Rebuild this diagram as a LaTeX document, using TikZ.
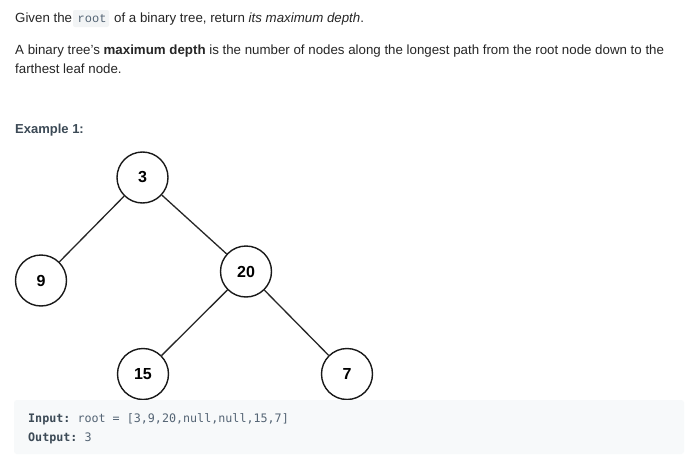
\documentclass[tikz,border=0pt]{standalone}
\usepackage{fontspec}
\setmainfont{Liberation Sans}
\setmonofont{DejaVu Sans Mono}
\newfontfamily\inlinemono{Liberation Mono}
\definecolor{txt}{HTML}{262626}
\definecolor{head}{HTML}{3C4A56}
\definecolor{codebg}{HTML}{F7F9FA}
\definecolor{codetxt}{HTML}{546474}
\definecolor{inlinebg}{HTML}{F2F4F5}
\begin{document}
\begin{tikzpicture}[x=1pt,y=-1pt,
  tnode/.style={circle,draw=black!90,line width=1.4pt,minimum size=51pt,inner sep=0pt,font=\fontsize{16}{18}\selectfont\bfseries},
  edge/.style={draw=black!85,line width=1.3pt},
  para/.style={anchor=base west,inner sep=0pt,text=txt,font=\fontsize{13.3}{15}\selectfont},
  code/.style={anchor=base west,inner sep=0pt,text=codetxt,font=\fontsize{11.7}{14}\selectfont\ttfamily}]
\useasboundingbox (0,0) rectangle (699,463);
\fill[white] (0,0) rectangle (699,463);
% inline code background
\fill[inlinebg,rounded corners=2pt] (73,10) rectangle (109,27);
\node[code,font=\fontsize{12}{12}\selectfont\inlinemono] (l1b) at (77.5,23) {root};
\node[para] (l1a) at (15,23) {Given the};
\node[para] (l1c) at (114,23) {of a binary tree, return \textit{its maximum depth}.};
\node[para] (l2) at (15,54) {A binary tree's \textbf{maximum depth} is the number of nodes along the longest path from the root node down to the};
\node[para] (l3) at (15,73) {farthest leaf node.};
\node[para,text=head,font=\fontsize{13}{15}\selectfont\bfseries] (ex) at (15,133) {Example 1:};
% tree
\node[tnode] (n3) at (142.5,177.5) {3};
\node[tnode] (n9) at (41,280.5) {9};
\node[tnode] (n20) at (246,271.5) {20};
\node[tnode] (n15) at (143,374) {15};
\node[tnode] (n7) at (347,374) {7};
\draw[edge] (n3) -- (n9);
\draw[edge] (n3) -- (n20);
\draw[edge] (n20) -- (n15);
\draw[edge] (n20) -- (n7);
% code box
\fill[codebg,rounded corners=3pt] (14,400) rectangle (684,454);
\node[code] (in) at (28,422) {\textcolor{head}{\bfseries Input:} root = [3,9,20,null,null,15,7]};
\node[code] (out) at (28,441) {\textcolor{head}{\bfseries Output:} 3};
\end{tikzpicture}
\end{document}
